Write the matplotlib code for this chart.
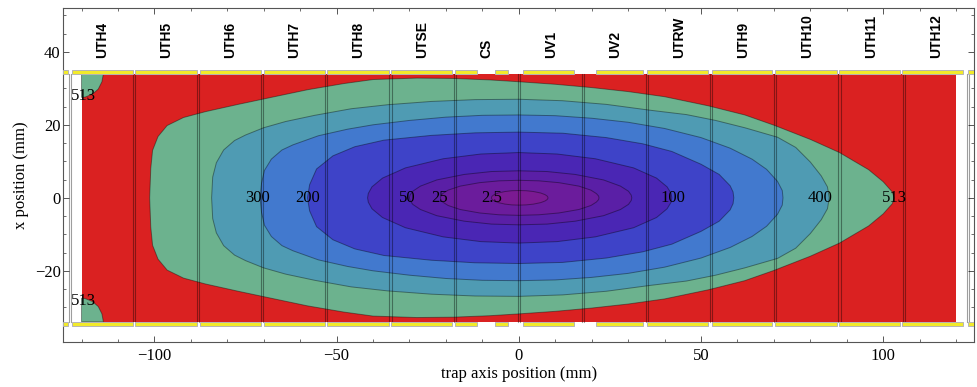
import numpy as np
import matplotlib.pyplot as plt
from matplotlib.patches import Rectangle
from matplotlib.ticker import MultipleLocator

# contour levels and band colours (colour = band just below the level)
levels = [513, 400, 300, 200, 100, 50, 25, 2.5]
band_colors = ['#6cb28e', '#4f9bb3', '#4279ce', '#3e43c8',
               '#4a26b4', '#5a1fa6', '#6b1c9c', '#7b1a92']

# upper half of each contour (x along trap axis, y = radial), mirrored below
c513_x = [-101.3, -101.0, -100.5, -99.0, -96.5, -92.0, -86.0, -77.0, -68.0, -58.0, -48.0,
          -40.0, -28.0, -18.0, -8.0, 0.0, 10.0, 20.0, 30.0, 40.0, 52.0, 62.0, 70.0, 80.0,
          88.0, 96.0, 100.0, 102.5, 103.0]
c513_y = [0.0, 8.0, 13.0, 16.8, 19.8, 22.0, 23.6, 25.6, 27.5, 29.6, 31.3, 32.4, 32.8, 32.7,
          32.3, 31.8, 31.1, 30.2, 29.1, 27.7, 25.2, 22.7, 19.9, 16.0, 12.4, 7.7, 4.4, 1.6, 0.0]

c400_x = [-84.3, -84.0, -83.0, -81.0, -78.0, -75.0, -70.0, -64.0, -56.0, -46.0, -36.0, -24.0,
          -12.0, 0.0, 12.0, 24.0, 36.0, 46.0, 54.0, 62.0, 71.0, 76.0, 80.0, 83.0, 84.7, 85.2]
c400_y = [0.0, 5.7, 9.6, 13.1, 15.7, 17.2, 19.2, 20.9, 22.6, 24.4, 25.5, 26.4, 26.9, 27.0,
          26.6, 25.6, 24.0, 22.8, 21.2, 19.2, 16.6, 13.8, 9.8, 6.0, 3.0, 0.0]

c300_x = [-71.0, -70.6, -69.8, -67.9, -65.0, -62.0, -55.0, -47.0, -40.0, -30.0, -20.0, -10.0,
          0.0, 10.0, 20.0, 30.0, 40.0, 50.0, 58.0, 64.0, 68.0, 71.0, 72.3, 72.5]
c300_y = [0.0, 4.0, 7.5, 10.6, 13.1, 14.5, 17.0, 18.8, 20.0, 21.2, 22.1, 22.6, 22.7, 22.5,
          21.8, 20.7, 19.0, 16.5, 13.6, 10.6, 7.8, 4.5, 2.0, 0.0]

c200_x = [-58.0, -57.4, -55.5, -51.0, -45.0, -37.0, -24.0, -12.0, 0.0, 12.0, 24.0, 34.0,
          42.0, 50.0, 55.0, 58.0, 58.8, 59.0]
c200_y = [0.0, 3.6, 7.9, 11.5, 14.0, 15.8, 17.1, 17.8, 18.0, 17.7, 16.5, 14.8, 12.7, 9.2,
          6.4, 3.3, 1.6, 0.0]

c100_x = [-41.5, -41.3, -40.3, -37.4, -31.1, -20.75, -10.4, 0.0, 10.5, 21.0, 31.5, 37.8,
          40.7, 41.8, 42.0]
c100_y = [0.0, 1.2, 3.0, 5.4, 8.2, 10.7, 12.0, 12.4, 12.0, 10.7, 8.2, 5.4, 3.0, 1.2, 0.0]

c50_x = [-30.0, -29.85, -29.1, -27.0, -22.5, -15.0, -7.5, 0.0, 7.75, 15.5, 23.25, 27.9,
         30.1, 30.85, 31.0]
c50_y = [0.0, 0.74, 1.8, 3.2, 4.9, 6.4, 7.2, 7.4, 7.2, 6.4, 4.9, 3.2, 1.8, 0.74, 0.0]

c25_x = [-21.5, -21.4, -20.9, -19.4, -16.1, -10.75, -5.4, 0.0, 5.5, 11.0, 16.5, 19.8,
         21.3, 21.9, 22.0]
c25_y = [0.0, 0.48, 1.15, 2.1, 3.2, 4.15, 4.65, 4.8, 4.65, 4.15, 3.2, 2.1, 1.15, 0.48, 0.0]

c2p5_x = [-7.5, -7.46, -7.3, -6.75, -5.6, -3.75, -1.9, 0.0, 2.0, 4.0, 6.0, 7.2, 7.76,
          7.96, 8.0]
c2p5_y = [0.0, 0.2, 0.49, 0.87, 1.32, 1.73, 1.94, 2.0, 1.94, 1.73, 1.32, 0.87, 0.49, 0.2, 0.0]

contours_x = [c513_x, c400_x, c300_x, c200_x, c100_x, c50_x, c25_x, c2p5_x]
contours_y = [c513_y, c400_y, c300_y, c200_y, c100_y, c50_y, c25_y, c2p5_y]

# small 513 pockets in the left corners
corner_x = [-120.0, -114.0, -114.4, -115.4, -117.0, -119.0, -120.0]
corner_y = [34.0, 34.0, 31.8, 29.8, 28.4, 27.6, 27.5]

# contour labels on the axis
label_text = ['300', '200', '50', '25', '2.5', '100', '400', '513']
label_x = [-71.7, -57.9, -30.5, -21.7, -7.4, 42.3, 82.6, 103.2]
corner_label_x = -119.4
corner_label_y = [27.8, -28.4]

# electrodes
electrodes = ['UTH4', 'UTH5', 'UTH6', 'UTH7', 'UTH8', 'UTSE', 'CS', 'UV1', 'UV2', 'UTRW',
              'UTH9', 'UTH10', 'UTH11', 'UTH12']
electrode_len = 17.6
# yellow electrode pieces at the wall (x ranges)
wall_start = [-125.0, -122.6, -105.2, -87.6, -70.0, -52.6, -35.0, -17.6, -6.4, 1.2, 21.3,
              35.1, 52.9, 70.3, 87.9, 105.2, 123.4]
wall_end = [-123.7, -106.0, -88.4, -70.8, -53.2, -35.7, -18.3, -11.5, -2.9, 15.2, 34.1,
            52.0, 69.5, 87.2, 104.6, 122.0, 125.0]
field_half_x = 120.0
wall_r = 34.0

serif = ['Liberation Serif', 'DejaVu Serif']

fig = plt.figure(figsize=(9.78, 3.87), dpi=100)
ax = fig.add_axes([63.3 / 978, 45 / 387, 911 / 978, 334 / 387])

ax.add_patch(Rectangle((-field_half_x, -wall_r), 2 * field_half_x, 2 * wall_r,
                       facecolor='#da2121', edgecolor='none', zorder=1))

line_c = (0, 0, 0, 0.38)
for cx, cy, col in zip(contours_x, contours_y, band_colors):
    cx = np.array(cx)
    cy = np.array(cy)
    px = np.concatenate([cx, cx[::-1]])
    py = np.concatenate([cy, -cy[::-1]])
    ax.fill(px, py, facecolor=col, edgecolor=line_c, lw=0.7, zorder=2)

for sgn in (1, -1):
    ax.fill(corner_x, sgn * np.array(corner_y), facecolor=band_colors[0],
            edgecolor=line_c, lw=0.7, zorder=2)

# electrode boundaries
edges = (np.arange(len(electrodes) + 1) - len(electrodes) / 2) * electrode_len
for e in edges:
    for d in (-0.3, 0.3):
        ax.plot([e + d, e + d], [-wall_r, wall_r], color='k', alpha=0.38, lw=0.8, zorder=3)

for s, e in zip(wall_start, wall_end):
    for y0 in (wall_r, -wall_r - 1.1):
        ax.add_patch(Rectangle((s, y0), e - s, 1.1, facecolor='#f2ea2a',
                               edgecolor='#b5b5b5', lw=0.7, zorder=4))

centers = (edges[:-1] + edges[1:]) / 2
for name, c in zip(electrodes, centers):
    ax.text(c, 38.3, name, rotation=90, ha='center', va='bottom', fontsize=10,
            fontweight='bold', family=['Liberation Sans', 'DejaVu Sans'])

for t, x in zip(label_text, label_x):
    ax.text(x, 0, t, ha='center', va='center', fontsize=12, family=serif, zorder=5)
for y in corner_label_y:
    ax.text(corner_label_x, y, '513', ha='center', va='center', fontsize=12,
            family=serif, zorder=5)

ax.set_xlim(-125, 125)
ax.set_ylim(-39.5, 52)
ax.xaxis.set_major_locator(MultipleLocator(50))
ax.xaxis.set_minor_locator(MultipleLocator(10))
ax.yaxis.set_major_locator(MultipleLocator(20))
ax.yaxis.set_minor_locator(MultipleLocator(5))
ax.tick_params(which='both', direction='in', top=True, right=True, color='#555555')
ax.tick_params(which='major', length=4, width=0.7)
ax.tick_params(which='minor', length=2.5, width=0.6)
ax.tick_params(axis='x', pad=4)
ax.tick_params(axis='y', pad=2)
for lab in ax.get_xticklabels() + ax.get_yticklabels():
    lab.set_family(serif)
    lab.set_fontsize(12)
for sp in ax.spines.values():
    sp.set_color('#555555')
    sp.set_linewidth(0.8)

ax.set_xlabel('trap axis position (mm)', family=serif, fontsize=12, labelpad=2)
ax.set_ylabel('x position (mm)', family=serif, fontsize=12, labelpad=4)

fig.savefig('out.png', dpi=100)
